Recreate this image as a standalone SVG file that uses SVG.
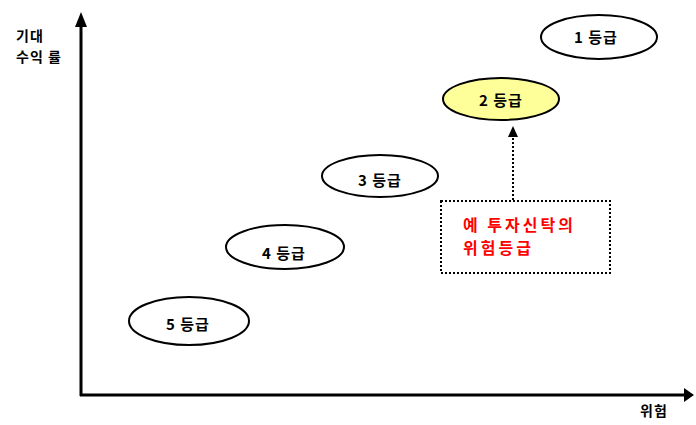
<svg xmlns="http://www.w3.org/2000/svg" width="696" height="425" viewBox="0 0 696 425">
<style>
text{font-family:"Noto Sans CJK KR","Liberation Sans",sans-serif;font-weight:bold}
.lbl{font-size:15px;fill:#000;text-anchor:middle;letter-spacing:1px}
.ell{stroke:#000;stroke-width:2;fill:#fff}
.red{font-size:16px;fill:#ff0000;letter-spacing:3px}
</style>
<rect width="696" height="425" fill="#fff"/>
<g id="connectors">
<line x1="81" y1="396" x2="81" y2="26" stroke="#000" stroke-width="3"/>
<path d="M81,12 L75,27 L87,27 z" fill="#000"/>
<line x1="80" y1="395" x2="684" y2="395" stroke="#000" stroke-width="3"/>
<path d="M694,395 L684,388 L684,402 z" fill="#000"/>
<line x1="513" y1="200" x2="513" y2="136" stroke="#000" stroke-width="2" stroke-dasharray="2,2"/>
<path d="M513,126 L508,137 L518,137 z" fill="#000"/>
</g>
<g id="yaxis-label">
<text x="16" y="41" font-size="14" letter-spacing="1">기대</text>
<text x="16" y="62" font-size="14" letter-spacing="1">수익 률</text>
</g>
<g id="xaxis-label"><text x="640" y="416" font-size="14" letter-spacing="1">위험</text></g>
<g id="grade1"><ellipse class="ell" cx="599" cy="37" rx="58" ry="22"/><text class="lbl" x="596" y="43">1 등급</text></g>
<g id="grade2"><ellipse class="ell" cx="501" cy="99" rx="58" ry="21" style="fill:#ffff99"/><text class="lbl" x="501" y="106">2 등급</text></g>
<g id="grade3"><ellipse class="ell" cx="380" cy="176" rx="58" ry="21"/><text class="lbl" x="380" y="186">3 등급</text></g>
<g id="grade4"><ellipse class="ell" cx="285" cy="247" rx="59" ry="22"/><text class="lbl" x="284" y="259">4 등급</text></g>
<g id="grade5"><ellipse class="ell" cx="189" cy="321" rx="60" ry="24"/><text class="lbl" x="188" y="330">5 등급</text></g>
<g id="note">
<rect x="441" y="201" width="169" height="72" fill="none" stroke="#000" stroke-width="2" stroke-dasharray="2,2"/>
<text class="red" x="463" y="231">예 투자신탁의</text>
<text class="red" x="463" y="254">위험등급</text>
</g>
</svg>
